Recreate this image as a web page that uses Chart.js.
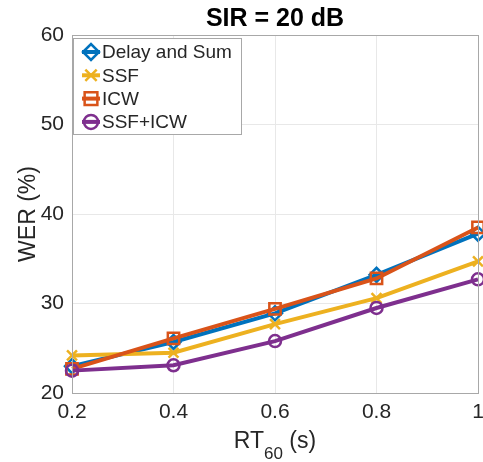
<!DOCTYPE html>
<html>
<head>
<meta charset="utf-8">
<script src="https://cdn.jsdelivr.net/npm/chart.js@4/dist/chart.umd.min.js"></script>
<style>
  html, body { margin: 0; padding: 0; background: #fff; }
  #wrap { width: 483px; height: 462px; }
</style>
</head>
<body>
<div id="wrap"><canvas id="werChart" width="483" height="462"></canvas></div>
<script>
var rt60 = [0.2, 0.4, 0.6, 0.8, 1.0];
var delayAndSum = [23.0, 25.7, 28.9, 33.2, 37.8];
var ssf = [24.2, 24.5, 27.7, 30.6, 34.7];
var icw = [22.7, 26.1, 29.4, 32.8, 38.5];
var ssfIcw = [22.5, 23.1, 25.8, 29.5, 32.7];
var seriesNames = ['Delay and Sum', 'SSF', 'ICW', 'SSF+ICW'];
var yTicks = [20, 30, 40, 50, 60];

var FONT = '"Liberation Sans", Arial, Helvetica, sans-serif';
var TEXT = '#262626';

function pts(ys) {
    return rt60.map(function (x, i) { return { x: x, y: ys[i] }; });
}

function series(label, ys, color, style, radius, order) {
    return {
        label: label,
        data: pts(ys),
        borderColor: color,
        backgroundColor: 'rgba(0,0,0,0)',
        borderWidth: 4,
        pointStyle: style,
        pointRadius: radius,
        pointBorderWidth: 2.5,
        pointBorderColor: color,
        pointBackgroundColor: 'rgba(0,0,0,0)',
        tension: 0,
        clip: false,
        order: order
    };
}

// title, axis titles, box and legend drawn by hand
var decor = {
    id: 'decor',
    afterDraw: function (chart) {
        var ctx = chart.ctx;
        var a = chart.chartArea;
        ctx.save();

        ctx.strokeStyle = '#a8a8a8';
        ctx.lineWidth = 1;
        ctx.strokeRect(a.left + 0.5, a.top + 0.5, a.right - a.left, a.bottom - a.top);

        var cx = (a.left + a.right) / 2;
        ctx.fillStyle = '#000';
        ctx.font = 'bold 25px ' + FONT;
        ctx.textAlign = 'center';
        ctx.textBaseline = 'alphabetic';
        ctx.fillText('SIR = 20 dB', cx, 26);

        // x title with subscript
        ctx.fillStyle = TEXT;
        ctx.font = '23px ' + FONT;
        var w1 = ctx.measureText('RT').width;
        var w3 = ctx.measureText(' (s)').width;
        ctx.font = '17px ' + FONT;
        var w2 = ctx.measureText('60').width;
        var x0 = cx - (w1 + w2 + w3) / 2;
        ctx.textAlign = 'left';
        ctx.font = '23px ' + FONT;
        ctx.fillText('RT', x0, 448);
        ctx.font = '17px ' + FONT;
        ctx.fillText('60', x0 + w1, 459);
        ctx.font = '23px ' + FONT;
        ctx.fillText(' (s)', x0 + w1 + w2, 448);

        // y title
        ctx.save();
        ctx.translate(35, (a.top + a.bottom) / 2);
        ctx.rotate(-Math.PI / 2);
        ctx.textAlign = 'center';
        ctx.fillText('WER (%)', 0, 0);
        ctx.restore();

        // legend
        var lx = 73, ly = 38, lw = 168, lh = 96;
        ctx.fillStyle = '#fff';
        ctx.fillRect(lx, ly, lw, lh);
        ctx.strokeStyle = '#a8a8a8';
        ctx.lineWidth = 1;
        ctx.strokeRect(lx + 0.5, ly + 0.5, lw, lh);
        chart.data.datasets.forEach(function (ds, i) {
            var y = 52 + i * 23.3;
            ctx.strokeStyle = ds.borderColor;
            ctx.lineWidth = 4;
            ctx.beginPath();
            ctx.moveTo(82, y);
            ctx.lineTo(100, y);
            ctx.stroke();
            ctx.lineWidth = ds.pointBorderWidth;
            ctx.fillStyle = 'rgba(0,0,0,0)';
            Chart.helpers.drawPoint(ctx, {
                pointStyle: ds.pointStyle,
                radius: ds.pointRadius + 1,
                rotation: 0,
                borderWidth: ds.pointBorderWidth
            }, 91, y);
            ctx.fillStyle = TEXT;
            ctx.font = '19px ' + FONT;
            ctx.textAlign = 'left';
            ctx.textBaseline = 'middle';
            ctx.fillText(seriesNames[i], 102, y + 1);
        });
        ctx.restore();
    }
};

new Chart(document.getElementById('werChart'), {
    type: 'line',
    data: {
        datasets: [
            series(seriesNames[0], delayAndSum, '#0072BD', 'rectRot', 7, 4),
            series(seriesNames[1], ssf, '#EDB120', 'crossRot', 7, 3),
            series(seriesNames[2], icw, '#D95319', 'rect', 8, 2),
            series(seriesNames[3], ssfIcw, '#7E2F8E', 'circle', 6, 1)
        ]
    },
    options: {
        responsive: false,
        animation: false,
        layout: { autoPadding: false, padding: { left: 0, top: 35, right: 5, bottom: 0 } },
        plugins: { legend: { display: false }, tooltip: { enabled: false }, title: { display: false } },
        scales: {
            x: {
                type: 'linear',
                min: 0.2,
                max: 1,
                afterFit: function (s) { s.height = 69; s.paddingLeft = 0; s.paddingRight = 0; },
                afterBuildTicks: function (s) { s.ticks = rt60.map(function (v) { return { value: v }; }); },
                ticks: {
                    color: TEXT,
                    padding: 7,
                    font: { family: FONT, size: 21 },
                    callback: function (v) { return String(+v.toFixed(1)); }
                },
                grid: { color: '#e8e8e8', drawTicks: false },
                border: { color: '#a8a8a8' }
            },
            y: {
                min: 20,
                max: 60,
                afterFit: function (s) { s.width = 72; s.paddingTop = 0; s.paddingBottom = 0; },
                afterBuildTicks: function (s) { s.ticks = yTicks.map(function (v) { return { value: v }; }); },
                ticks: {
                    color: TEXT,
                    padding: 8,
                    font: { family: FONT, size: 21 }
                },
                grid: { color: '#e8e8e8', drawTicks: false },
                border: { color: '#a8a8a8' }
            }
        }
    },
    plugins: [decor]
});
</script>
</body>
</html>
